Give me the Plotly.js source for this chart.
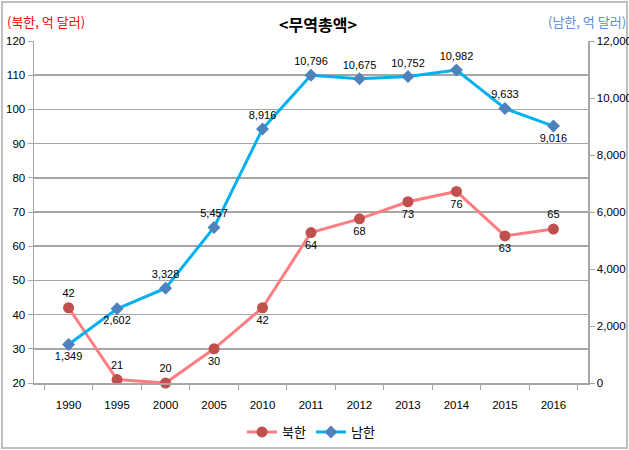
<!DOCTYPE html>
<html><head><meta charset="utf-8">
<script src="https://cdn.plot.ly/plotly-3.0.1.min.js"></script>
<style>html,body{margin:0;padding:0;background:#fff}</style>
</head><body>
<div id="chart" style="width:629px;height:450px"></div>
<script>
var years = ['1990','1995','2000','2005','2010','2011','2012','2013','2014','2015','2016'];
var northTrade = [42, 21, 20, 30, 42, 64, 68, 73, 76, 63, 65];
var southTrade = [1349, 2602, 3328, 5457, 8916, 10796, 10675, 10752, 10982, 9633, 9016];
var northPos = ['top center','top center','top center','bottom center','bottom center','bottom center','bottom center','bottom center','bottom center','bottom center','top center'];
var southPos = ['bottom center','bottom center','top center','top center','top center','top center','top center','top center','top center','top center','bottom center'];

var fontFam = 'Liberation Sans, Noto Sans CJK KR, sans-serif';
var korFam = 'Noto Sans CJK KR, sans-serif';

var traces = [
 {x: years, y: northTrade, name: '북한', type: 'scatter', mode: 'lines+markers+text',
  line: {color: '#ff7c80', width: 3},
  marker: {color: '#c0504d', size: 11, symbol: 'circle'},
  text: northTrade.map(String), textposition: northPos,
  textfont: {family: fontFam, size: 11, color: '#000'},
  yaxis: 'y', cliponaxis: false},
 {x: years, y: southTrade, name: '남한', type: 'scatter', mode: 'lines+markers+text',
  line: {color: '#00b0f0', width: 3},
  marker: {color: '#4f81bd', size: 10, symbol: 'diamond'},
  texttemplate: '%{y:,}', textposition: southPos,
  textfont: {family: fontFam, size: 11, color: '#000'},
  yaxis: 'y2', cliponaxis: false}
];

var ml = 34, mr = 41, mt = 41, mb = 67, W = 629, H = 450;
var pw = W - ml - mr, ph = H - mt - mb;
function px(x){return (x - ml)/pw;}
function py(y){return (H - mb - y)/ph;}

var layout = {
 width: W, height: H,
 margin: {l: ml, r: mr, t: mt, b: mb, autoexpand: false},
 paper_bgcolor: '#fff', plot_bgcolor: '#fff',
 font: {family: fontFam, size: 11, color: '#000'},
 showlegend: true,
 legend: {orientation: 'h', x: 0.5, xanchor: 'center', y: py(432), yanchor: 'middle',
   font: {family: korFam, size: 13, color: '#000'}, tracegroupgap: 0},
 xaxis: {type: 'category', showgrid: false, showline: true, linecolor: '#a6a6a6', linewidth: 1.5,
   ticks: 'outside', tickson: 'boundaries', ticklen: 5, tickcolor: '#a6a6a6',
   tickfont: {family: fontFam, size: 11.5}, ticklabelstandoff: 11, zeroline: false, automargin: false},
 yaxis: {range: [20, 120], dtick: 10, showgrid: true, gridcolor: '#a6a6a6', gridwidth: 1.5,
   showline: true, linecolor: '#a6a6a6', linewidth: 1.5, ticks: 'outside', ticklen: 5, tickcolor: '#a6a6a6',
   tickfont: {family: fontFam, size: 11.5}, zeroline: false, automargin: false},
 yaxis2: {range: [0, 12000], dtick: 2000, overlaying: 'y', side: 'right', showgrid: false,
   showline: true, linecolor: '#a6a6a6', linewidth: 1.5, ticks: 'outside', ticklen: 5, tickcolor: '#a6a6a6',
   tickformat: ',', tickfont: {family: fontFam, size: 11.5}, zeroline: false, automargin: false},
 title: {text: '<b>&lt;무역총액&gt;</b>', x: px(318), xref: 'paper', xanchor: 'center', y: 1 - 25/H, yref: 'container', yanchor: 'middle',
   font: {family: korFam, size: 16, color: '#000'}},
 annotations: [
  {text: '(북한, 억 달러)', xref: 'paper', yref: 'paper', x: px(5), y: py(22), xanchor: 'left', yanchor: 'middle',
   showarrow: false, font: {family: korFam, size: 13, color: '#ff0000'}},
  {text: '(남한, 억 달러)', xref: 'paper', yref: 'paper', x: px(628), y: py(22), xanchor: 'right', yanchor: 'middle',
   showarrow: false, font: {family: korFam, size: 13, color: '#558ed5'}}
 ],
 shapes: [
  {type: 'rect', xref: 'paper', yref: 'paper', x0: px(2), x1: px(627), y0: py(448), y1: py(2),
   line: {color: '#bfbfbf', width: 2}, fillcolor: 'rgba(0,0,0,0)', layer: 'below'}
 ]
};

Plotly.newPlot('chart', traces, layout, {displayModeBar: false, staticPlot: true});
</script>
</body></html>
